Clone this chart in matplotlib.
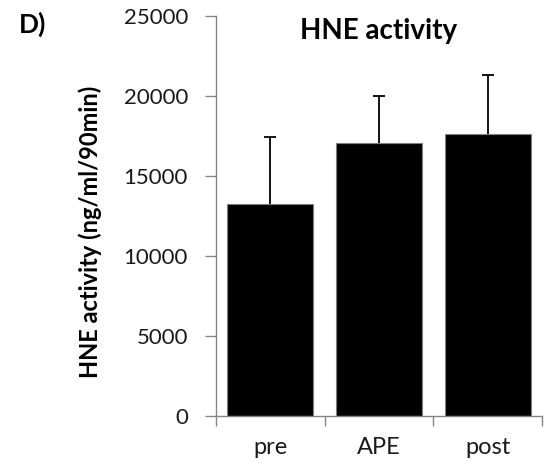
import matplotlib
matplotlib.use("Agg")
import matplotlib.pyplot as plt

# data
groups = ["pre", "APE", "post"]
means = [13230, 17080, 17640]
sd = [4230, 2940, 3670]
yticks = [0, 5000, 10000, 15000, 20000, 25000]

plt.rcParams['font.family'] = ['Lato', 'DejaVu Sans']

fig = plt.figure(figsize=(5.46, 4.70), dpi=100)
ax = fig.add_axes([215.7/546, 54/470, 326.6/546, 400/470])

x = list(range(len(groups)))
ax.bar(x, means, width=0.79, color="black", edgecolor="#808080", linewidth=0.8, zorder=2)
eb = ax.errorbar(x, means, yerr=[[0]*len(sd), sd], fmt="none", ecolor="black",
                 elinewidth=1.3, capsize=4.3, capthick=1.3, zorder=3)
eb[1][0].set_visible(False)  # only the upper cap

ax.set_xlim(-0.5, len(groups) - 0.5)
ax.set_ylim(0, 25000)
ax.set_yticks(yticks)
ax.set_yticklabels([str(t) for t in yticks])

# category boundaries get the tick marks, centres get the labels
ax.set_xticks([i - 0.5 for i in range(len(groups) + 1)])
ax.set_xticklabels([])
ax.set_xticks(x, minor=True)
ax.set_xticklabels(groups, minor=True)
ax.tick_params(axis="x", which="major", direction="out", length=7, color="#868686", width=1)
ax.tick_params(axis="x", which="minor", length=0, pad=15, labelsize=17, labelcolor="#1a1a1a")
ax.tick_params(axis="y", direction="out", length=8, color="#868686", width=1,
               pad=12, labelsize=16, labelcolor="#1a1a1a")

for s in ["top", "right"]:
    ax.spines[s].set_visible(False)
for s in ["left", "bottom"]:
    ax.spines[s].set_color("#868686")
    ax.spines[s].set_linewidth(1)

ax.text(0.5, 0.995, "HNE activity", transform=ax.transAxes, ha="center", va="top",
        fontsize=20, fontweight="bold")
fig.text(90/546, 1 - 232/470, "HNE activity (ng/ml/90min)", rotation=90,
         ha="center", va="center", fontsize=17, fontweight="bold")
fig.text(33/546, 1 - 24/470, "D)", ha="center", va="center", fontsize=19, fontweight="bold")

fig.savefig("out.png", dpi=100)
